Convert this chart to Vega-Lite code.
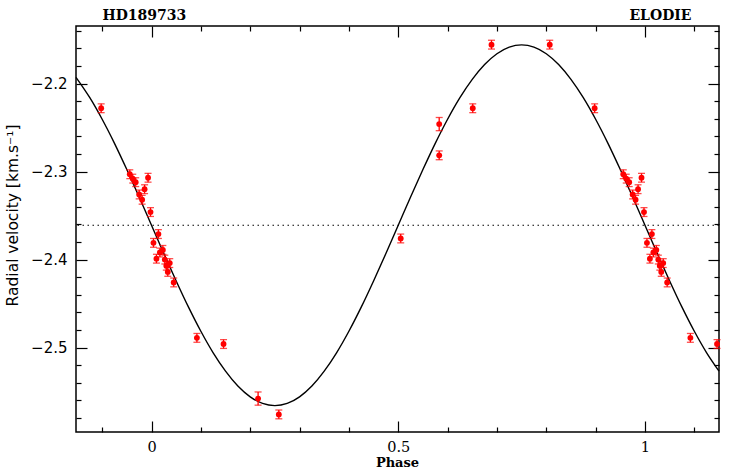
{
  "$schema": "https://vega.github.io/schema/vega-lite/v6.json",
  "width": 643,
  "height": 406,
  "autosize": "none",
  "padding": {"left": 76, "top": 26, "right": 13, "bottom": 38},
  "background": "white",
  "config": {
    "view": {"stroke": "black", "strokeWidth": 1.5},
    "axis": {"domain": false, "grid": false, "tickColor": "black", "tickWidth": 1.2, "labelOverlap": false, "labelFlush": false}
  },
  "datasets": {
    "model": [
      {"phase": -0.153, "rv": -2.1928}, {"phase": -0.125, "rv": -2.2160}, {"phase": -0.1, "rv": -2.2405},
      {"phase": -0.075, "rv": -2.2679}, {"phase": -0.05, "rv": -2.2977}, {"phase": -0.025, "rv": -2.3289},
      {"phase": 0, "rv": -2.361}, {"phase": 0.025, "rv": -2.3931}, {"phase": 0.05, "rv": -2.4243},
      {"phase": 0.075, "rv": -2.4541}, {"phase": 0.1, "rv": -2.4815}, {"phase": 0.125, "rv": -2.5060},
      {"phase": 0.15, "rv": -2.5268}, {"phase": 0.175, "rv": -2.5437}, {"phase": 0.2, "rv": -2.5560},
      {"phase": 0.225, "rv": -2.5635}, {"phase": 0.25, "rv": -2.566}, {"phase": 0.275, "rv": -2.5635},
      {"phase": 0.3, "rv": -2.5560}, {"phase": 0.325, "rv": -2.5437}, {"phase": 0.35, "rv": -2.5268},
      {"phase": 0.375, "rv": -2.5060}, {"phase": 0.4, "rv": -2.4815}, {"phase": 0.425, "rv": -2.4541},
      {"phase": 0.45, "rv": -2.4243}, {"phase": 0.475, "rv": -2.3931}, {"phase": 0.5, "rv": -2.361},
      {"phase": 0.525, "rv": -2.3289}, {"phase": 0.55, "rv": -2.2977}, {"phase": 0.575, "rv": -2.2679},
      {"phase": 0.6, "rv": -2.2405}, {"phase": 0.625, "rv": -2.2160}, {"phase": 0.65, "rv": -2.1952},
      {"phase": 0.675, "rv": -2.1783}, {"phase": 0.7, "rv": -2.1660}, {"phase": 0.725, "rv": -2.1585},
      {"phase": 0.75, "rv": -2.156}, {"phase": 0.775, "rv": -2.1585}, {"phase": 0.8, "rv": -2.1660},
      {"phase": 0.825, "rv": -2.1783}, {"phase": 0.85, "rv": -2.1952}, {"phase": 0.875, "rv": -2.2160},
      {"phase": 0.9, "rv": -2.2405}, {"phase": 0.925, "rv": -2.2679}, {"phase": 0.95, "rv": -2.2977},
      {"phase": 0.975, "rv": -2.3289}, {"phase": 1.0, "rv": -2.361}, {"phase": 1.025, "rv": -2.3931},
      {"phase": 1.05, "rv": -2.4243}, {"phase": 1.075, "rv": -2.4541}, {"phase": 1.1, "rv": -2.4815},
      {"phase": 1.125, "rv": -2.5060}, {"phase": 1.15, "rv": -2.5268}
    ],
    "obs": [
      {"phase": -0.102, "rv": -2.228, "err": 0.005},
      {"phase": -0.044, "rv": -2.303, "err": 0.005},
      {"phase": -0.038, "rv": -2.308, "err": 0.005},
      {"phase": -0.032, "rv": -2.312, "err": 0.005},
      {"phase": -0.025, "rv": -2.326, "err": 0.005},
      {"phase": -0.019, "rv": -2.332, "err": 0.005},
      {"phase": -0.014, "rv": -2.320, "err": 0.005},
      {"phase": -0.007, "rv": -2.307, "err": 0.005},
      {"phase": -0.002, "rv": -2.346, "err": 0.005},
      {"phase": 0.004, "rv": -2.381, "err": 0.005},
      {"phase": 0.010, "rv": -2.399, "err": 0.005},
      {"phase": 0.014, "rv": -2.371, "err": 0.005},
      {"phase": 0.017, "rv": -2.392, "err": 0.005},
      {"phase": 0.023, "rv": -2.389, "err": 0.005},
      {"phase": 0.027, "rv": -2.400, "err": 0.005},
      {"phase": 0.030, "rv": -2.407, "err": 0.005},
      {"phase": 0.033, "rv": -2.414, "err": 0.005},
      {"phase": 0.037, "rv": -2.404, "err": 0.005},
      {"phase": 0.045, "rv": -2.426, "err": 0.005},
      {"phase": 0.092, "rv": -2.489, "err": 0.005},
      {"phase": 0.146, "rv": -2.496, "err": 0.005},
      {"phase": 0.216, "rv": -2.558, "err": 0.0075},
      {"phase": 0.258, "rv": -2.576, "err": 0.005},
      {"phase": 0.505, "rv": -2.376, "err": 0.005},
      {"phase": 0.583, "rv": -2.246, "err": 0.0075},
      {"phase": 0.583, "rv": -2.2815, "err": 0.005},
      {"phase": 0.651, "rv": -2.228, "err": 0.005},
      {"phase": 0.689, "rv": -2.1557, "err": 0.005},
      {"phase": 0.807, "rv": -2.1557, "err": 0.005},
      {"phase": 0.898, "rv": -2.228, "err": 0.005},
      {"phase": 0.956, "rv": -2.303, "err": 0.005},
      {"phase": 0.962, "rv": -2.308, "err": 0.005},
      {"phase": 0.968, "rv": -2.312, "err": 0.005},
      {"phase": 0.975, "rv": -2.326, "err": 0.005},
      {"phase": 0.981, "rv": -2.332, "err": 0.005},
      {"phase": 0.986, "rv": -2.320, "err": 0.005},
      {"phase": 0.993, "rv": -2.307, "err": 0.005},
      {"phase": 0.998, "rv": -2.346, "err": 0.005},
      {"phase": 1.004, "rv": -2.381, "err": 0.005},
      {"phase": 1.010, "rv": -2.399, "err": 0.005},
      {"phase": 1.014, "rv": -2.371, "err": 0.005},
      {"phase": 1.017, "rv": -2.392, "err": 0.005},
      {"phase": 1.023, "rv": -2.389, "err": 0.005},
      {"phase": 1.027, "rv": -2.400, "err": 0.005},
      {"phase": 1.030, "rv": -2.407, "err": 0.005},
      {"phase": 1.033, "rv": -2.414, "err": 0.005},
      {"phase": 1.037, "rv": -2.404, "err": 0.005},
      {"phase": 1.045, "rv": -2.426, "err": 0.005},
      {"phase": 1.092, "rv": -2.489, "err": 0.005},
      {"phase": 1.146, "rv": -2.496, "err": 0.005}
    ]
  },
  "layer": [
    {
      "data": {"name": "model"},
      "mark": {"type": "line", "color": "black", "strokeWidth": 1.4, "interpolate": "monotone"},
      "encoding": {
        "x": {
          "field": "phase", "type": "quantitative",
          "scale": {"domain": [-0.153, 1.15], "nice": false, "zero": false},
          "axis": {
            "orient": "top",
            "values": [-0.1, 0, 0.1, 0.2, 0.3, 0.4, 0.5, 0.6, 0.7, 0.8, 0.9, 1, 1.1],
            "tickSize": {"condition": {"test": "abs(datum.value*2 - round(datum.value*2)) < 0.001", "value": -11}, "value": -5},
            "labels": false,
            "title": "HD189733",
            "titleFont": "DejaVu Serif", "titleFontWeight": "bold", "titleFontSize": 14, "titleColor": "black",
            "titleX": 26, "titleY": -7, "titleAlign": "left", "titleBaseline": "alphabetic", "titleAngle": 0
          }
        },
        "y": {
          "field": "rv", "type": "quantitative",
          "scale": {"domain": [-2.596, -2.1345], "nice": false, "zero": false},
          "axis": {
            "orient": "right",
            "values": [-2.58, -2.56, -2.54, -2.52, -2.5, -2.48, -2.46, -2.44, -2.42, -2.4, -2.38, -2.36, -2.34, -2.32, -2.3, -2.28, -2.26, -2.24, -2.22, -2.2, -2.18, -2.16, -2.14],
            "tickSize": {"condition": {"test": "abs(datum.value*10 - round(datum.value*10)) < 0.001", "value": -11}, "value": -5},
            "labels": false,
            "title": "ELODIE",
            "titleFont": "DejaVu Serif", "titleFontWeight": "bold", "titleFontSize": 14, "titleColor": "black",
            "titleX": -28, "titleY": -7, "titleAlign": "right", "titleBaseline": "alphabetic", "titleAngle": 0
          }
        }
      }
    },
    {
      "data": {"values": [{"level": -2.361}]},
      "mark": {"type": "rule", "color": "black", "strokeWidth": 1.2, "strokeDash": [1.5, 3.5]},
      "encoding": {
        "y": {"field": "level", "type": "quantitative", "scale": {"domain": [-2.596, -2.1345], "nice": false, "zero": false}, "axis": null}
      }
    },
    {
      "data": {"name": "obs"},
      "mark": {"type": "errorbar", "color": "#ff0000", "thickness": 1.3, "ticks": {"size": 7, "color": "#ff0000"}},
      "encoding": {
        "x": {"field": "phase", "type": "quantitative", "scale": {"domain": [-0.153, 1.15], "nice": false, "zero": false}, "axis": null},
        "y": {"field": "rv", "type": "quantitative", "scale": {"domain": [-2.596, -2.1345], "nice": false, "zero": false}, "axis": null},
        "yError": {"field": "err"}
      }
    },
    {
      "data": {"name": "obs"},
      "mark": {"type": "point", "filled": true, "color": "#ff0000", "size": 34, "opacity": 1},
      "encoding": {
        "x": {
          "field": "phase", "type": "quantitative",
          "scale": {"domain": [-0.153, 1.15], "nice": false, "zero": false},
          "axis": {
            "orient": "bottom",
            "values": [-0.1, 0, 0.1, 0.2, 0.3, 0.4, 0.5, 0.6, 0.7, 0.8, 0.9, 1, 1.1],
            "tickSize": {"condition": {"test": "abs(datum.value*2 - round(datum.value*2)) < 0.001", "value": -11}, "value": -5},
            "labelExpr": "abs(datum.value) < 0.001 ? '0' : abs(datum.value - 0.5) < 0.001 ? '0.5' : abs(datum.value - 1) < 0.001 ? '1' : ''",
            "labelFont": "DejaVu Serif", "labelFontSize": 14.5, "labelColor": "black",
            "labelBaseline": "alphabetic", "labelPadding": 30,
            "title": "Phase",
            "titleFont": "DejaVu Serif", "titleFontWeight": "bold", "titleFontSize": 13, "titleColor": "black",
            "titleX": 321, "titleY": 34.5, "titleAlign": "center", "titleBaseline": "alphabetic"
          }
        },
        "y": {
          "field": "rv", "type": "quantitative",
          "scale": {"domain": [-2.596, -2.1345], "nice": false, "zero": false},
          "axis": {
            "orient": "left",
            "values": [-2.58, -2.56, -2.54, -2.52, -2.5, -2.48, -2.46, -2.44, -2.42, -2.4, -2.38, -2.36, -2.34, -2.32, -2.3, -2.28, -2.26, -2.24, -2.22, -2.2, -2.18, -2.16, -2.14],
            "tickSize": {"condition": {"test": "abs(datum.value*10 - round(datum.value*10)) < 0.001", "value": -11}, "value": -5},
            "format": ".1f",
            "labelExpr": "abs(datum.value*10 - round(datum.value*10)) < 0.001 ? datum.label : ''",
            "labelFont": "DejaVu Sans", "labelFontSize": 15, "labelColor": "black",
            "labelBaseline": "middle", "labelPadding": 20,
            "title": "Radial velocity [km.s⁻¹]",
            "titleFont": "DejaVu Sans", "titleFontWeight": "normal", "titleFontSize": 15.5, "titleColor": "black",
            "titleX": -64, "titleY": 189, "titleAlign": "center", "titleBaseline": "middle", "titleAngle": -90
          }
        }
      }
    }
  ],
  "resolve": {"axis": {"x": "independent", "y": "independent"}}
}
